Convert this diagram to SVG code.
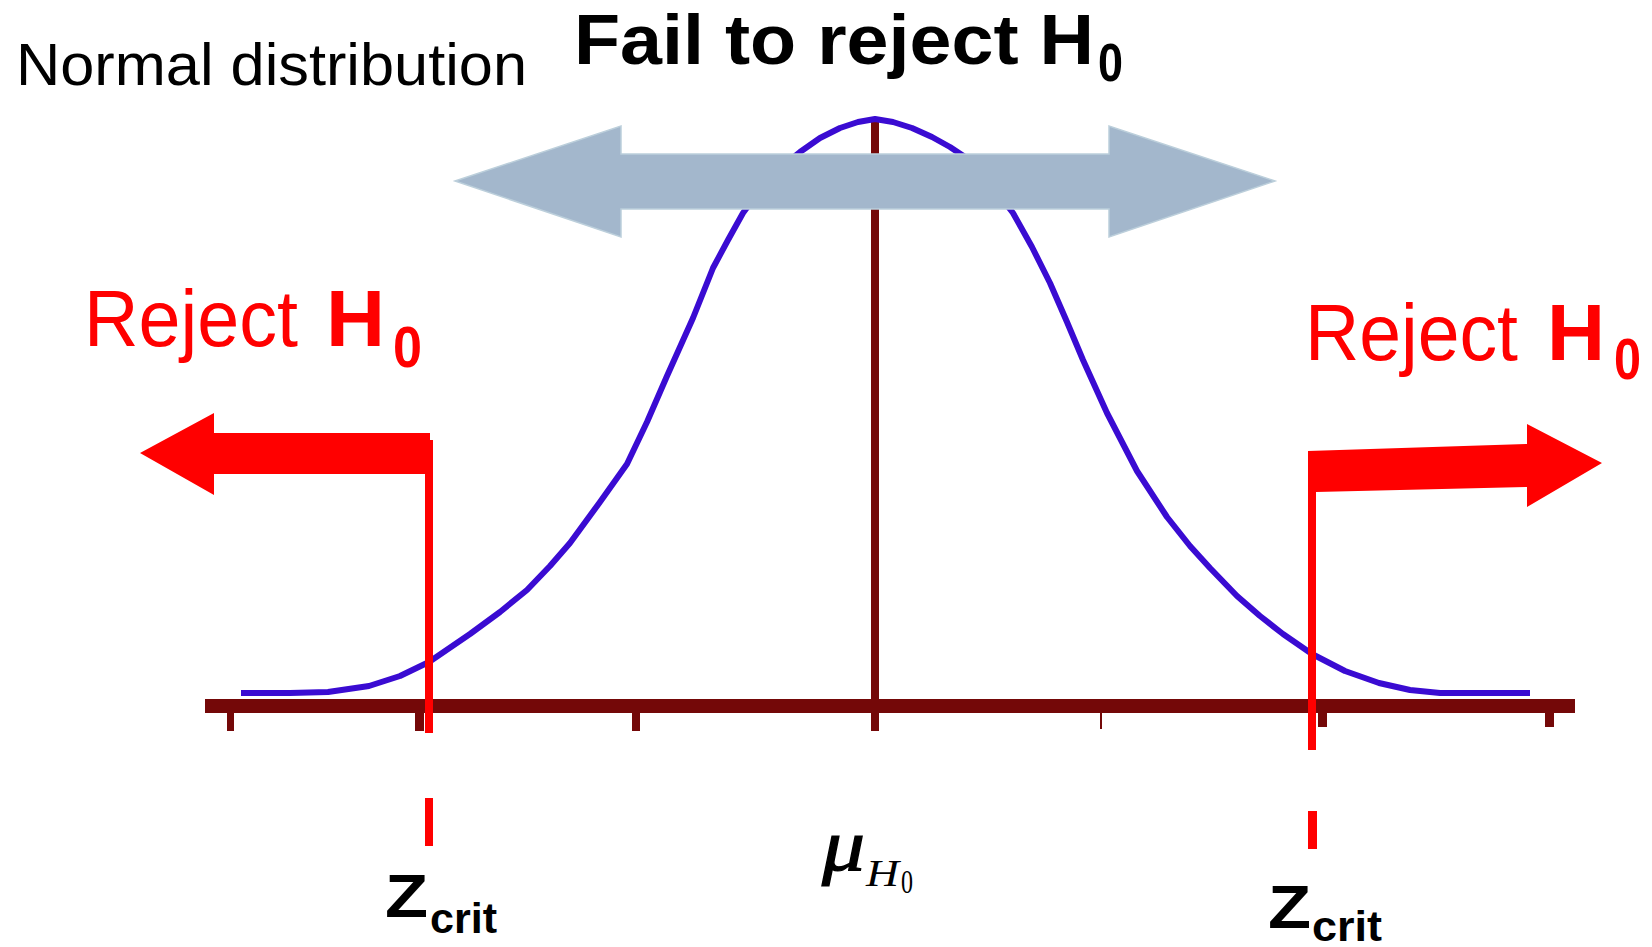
<svg xmlns="http://www.w3.org/2000/svg" width="1652" height="947" viewBox="0 0 1652 947">
<style>
.axis{fill:#740808}
.red{fill:#FF0000}
.curve{fill:none;stroke:#3A0BD2;stroke-width:6;stroke-linejoin:round;stroke-linecap:butt}
.sans{font-family:"Liberation Sans",Arial,sans-serif}
.serif{font-family:"Liberation Serif","Times New Roman",serif}
</style>
<rect width="1652" height="947" fill="#FFFFFF"/>
<g id="axis">
<rect class="axis" x="205" y="699" width="1370" height="14"/>
<rect class="axis" x="227" y="705" width="7" height="26"/>
<rect class="axis" x="415" y="705" width="9" height="26"/>
<rect class="axis" x="632" y="705" width="8" height="26"/>
<rect class="axis" x="1100" y="705" width="2" height="24"/>
<rect class="axis" x="1318" y="705" width="9" height="22"/>
<rect class="axis" x="1545" y="705" width="9" height="22"/>
<rect id="mean-line" class="axis" x="871" y="118" width="8" height="613"/>
</g>
<g id="normal-curve">
<polyline class="curve" points="241,693 290,693 328,692 369,686 400,676 429,662 470,634 500,612 527,590 550,566 570,543 600,502 627,464 647,422 667,376 680,347 693,318 713,268 728,240 743,213 760,190 780,168 800,152 820,138 840,128 858,122 875,119 893,122 912,128 932,137 950,147 965,157 990,183 1013,213 1032,247 1050,283 1067,322 1083,360 1107,413 1137,471 1167,517 1190,546 1210,568 1237,596 1260,616 1283,634 1312,654 1345,671 1379,683 1410,690 1440,693 1530,693"/>
</g>
<g id="connectors">
<polygon id="fail-arrow" points="455,181 621,126 621,154 1109,154 1109,126 1275,181 1109,237 1109,209 621,209 621,237" fill="#A3B7CC" stroke="#BCCFDB" stroke-width="1.5"/>
<g id="left-reject-arrow">
<polygon class="red" points="140,453 214,413 214,433 430,433 430,474 214,474 214,495"/>
<rect class="red" x="425" y="440" width="8" height="293"/>
<rect class="red" x="425" y="798" width="8" height="48"/>
</g>
<g id="right-reject-arrow">
<polygon class="red" points="1308,451 1527,444 1527,424 1602,463 1527,507 1527,487 1316,492 1308,492"/>
<rect class="red" x="1308" y="451" width="8" height="299"/>
<rect class="red" x="1308" y="811" width="9" height="38"/>
</g>
</g>
<g id="title-normal">
<text class="sans" x="16" y="85" font-size="60" fill="#000000" textLength="511" lengthAdjust="spacingAndGlyphs">Normal distribution</text>
</g>
<g id="title-fail">
<text class="sans" x="574" y="64" font-size="70" font-weight="bold" fill="#000000" textLength="520" lengthAdjust="spacingAndGlyphs">Fail to reject H</text>
<text class="sans" x="1098" y="81" font-size="54" font-weight="bold" fill="#000000" textLength="25" lengthAdjust="spacingAndGlyphs">0</text>
</g>
<g id="label-reject-left" fill="#FF0000">
<text class="sans" x="84" y="346" font-size="80" textLength="214" lengthAdjust="spacingAndGlyphs">Reject</text>
<text class="sans" x="326" y="346" font-size="80" font-weight="bold" textLength="59" lengthAdjust="spacingAndGlyphs">H</text>
<text class="sans" x="393" y="367" font-size="58" font-weight="bold" textLength="29" lengthAdjust="spacingAndGlyphs">0</text>
</g>
<g id="label-reject-right" fill="#FF0000">
<text class="sans" x="1305" y="360" font-size="80" textLength="213" lengthAdjust="spacingAndGlyphs">Reject</text>
<text class="sans" x="1547" y="360" font-size="80" font-weight="bold" textLength="58" lengthAdjust="spacingAndGlyphs">H</text>
<text class="sans" x="1614" y="379" font-size="58" font-weight="bold" textLength="27" lengthAdjust="spacingAndGlyphs">0</text>
</g>
<g id="label-zcrit-left">
<text class="sans" x="385" y="917" font-size="62" font-weight="bold" textLength="43" lengthAdjust="spacingAndGlyphs">Z</text>
<text class="sans" x="430" y="933" font-size="42" font-weight="bold" textLength="67" lengthAdjust="spacingAndGlyphs">crit</text>
</g>
<g id="label-mu">
<text class="serif" x="822" y="870" font-size="74" font-style="italic" textLength="43" lengthAdjust="spacingAndGlyphs" stroke="#000000" stroke-width="1.2">μ</text>
<text class="serif" x="866" y="886" font-size="38" font-style="italic" textLength="33" lengthAdjust="spacingAndGlyphs">H</text>
<text class="serif" x="901" y="893" font-size="33" textLength="12" lengthAdjust="spacingAndGlyphs">0</text>
</g>
<g id="label-zcrit-right">
<text class="sans" x="1268" y="928" font-size="62" font-weight="bold" textLength="43" lengthAdjust="spacingAndGlyphs">Z</text>
<text class="sans" x="1312" y="941" font-size="42" font-weight="bold" textLength="70" lengthAdjust="spacingAndGlyphs">crit</text>
</g>
</svg>
